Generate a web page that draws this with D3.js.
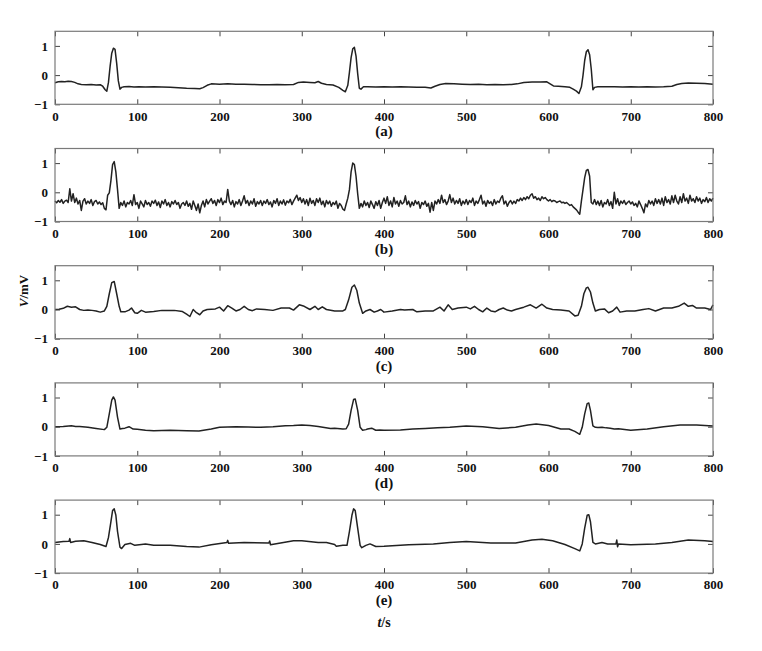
<!DOCTYPE html>
<html><head><meta charset="utf-8">
<script src="https://cdn.jsdelivr.net/npm/d3@7/dist/d3.min.js"></script>
<style>
html,body{margin:0;padding:0;background:#fff;}
svg text{font-family:"Liberation Serif","Times New Roman",serif;font-weight:bold;fill:#111;}
</style></head>
<body><svg id="chart" width="762" height="651"></svg>
<script>
// ---- data ----
const xTicks = [0,100,200,300,400,500,600,700,800];
const yTicks = [-1,0,1];
const yTickLabels = ["\u22121","0","1"];
const panelLabels = ["(a)","(b)","(c)","(d)","(e)"];

// (a) clean ECG [t, mV]
const sigA = [[0,-0.26],[4,-0.23],[8,-0.22],[12,-0.23],[16,-0.21],[20,-0.22],[24,-0.25],[28,-0.30],[32,-0.32],[38,-0.33],[44,-0.32],[50,-0.34],[55,-0.33],[58,-0.38],[61,-0.50],[63,-0.55],[65,-0.25],[67,0.30],[69,0.75],[71,0.92],[73,0.88],[75,0.40],[77,-0.20],[79,-0.48],[81,-0.42],[84,-0.40],[90,-0.39],[96,-0.41],[102,-0.40],[110,-0.41],[120,-0.40],[130,-0.41],[140,-0.42],[150,-0.43],[160,-0.45],[170,-0.46],[176,-0.47],[180,-0.43],[185,-0.35],[190,-0.30],[200,-0.31],[210,-0.30],[220,-0.31],[230,-0.31],[240,-0.32],[250,-0.33],[260,-0.33],[270,-0.32],[280,-0.33],[290,-0.32],[296,-0.25],[302,-0.24],[310,-0.25],[316,-0.26],[320,-0.22],[324,-0.28],[330,-0.32],[338,-0.34],[345,-0.42],[350,-0.52],[353,-0.57],[356,-0.35],[358,0.10],[360,0.60],[362,0.90],[364,0.95],[366,0.65],[368,0.05],[370,-0.45],[372,-0.48],[375,-0.40],[380,-0.40],[390,-0.41],[400,-0.40],[410,-0.41],[420,-0.40],[430,-0.41],[440,-0.42],[450,-0.42],[457,-0.44],[462,-0.38],[468,-0.32],[475,-0.29],[485,-0.30],[495,-0.31],[505,-0.32],[515,-0.31],[525,-0.33],[535,-0.32],[545,-0.33],[555,-0.32],[562,-0.30],[570,-0.25],[580,-0.24],[590,-0.24],[598,-0.23],[602,-0.30],[606,-0.37],[612,-0.38],[620,-0.40],[626,-0.42],[630,-0.48],[634,-0.55],[637,-0.63],[640,-0.40],[642,0.00],[644,0.50],[646,0.80],[648,0.87],[650,0.70],[652,0.20],[654,-0.50],[656,-0.42],[660,-0.40],[670,-0.40],[680,-0.40],[690,-0.41],[700,-0.40],[710,-0.41],[720,-0.40],[730,-0.41],[740,-0.40],[750,-0.38],[756,-0.32],[762,-0.29],[770,-0.27],[780,-0.28],[790,-0.29],[800,-0.31]];

// (b) noisy ECG, one value every bStep seconds from t = 0
const bStep = 2;
const sigB = [
-0.30,-0.36,-0.28,-0.34,-0.25,-0.38,-0.30,-0.27,-0.35,0.12,
-0.30,-0.05,-0.35,-0.20,-0.40,-0.28,-0.62,-0.30,-0.22,-0.40,
-0.30,-0.38,-0.25,-0.45,-0.32,-0.28,-0.40,-0.33,-0.42,-0.36,
-0.55,-0.60,-0.10,-0.02,0.40,0.95,1.05,0.70,0.10,-0.55,
-0.35,-0.45,-0.30,-0.50,-0.35,-0.40,-0.28,-0.45,-0.08,-0.42,
-0.35,-0.55,-0.30,-0.40,-0.50,-0.28,-0.42,-0.35,-0.48,-0.30,
-0.38,-0.27,-0.45,-0.33,-0.52,-0.30,-0.40,-0.25,-0.45,-0.35,
-0.50,-0.32,-0.40,-0.28,-0.42,-0.35,-0.55,-0.40,-0.35,-0.45,
-0.30,-0.48,-0.38,-0.58,-0.30,-0.45,-0.62,-0.40,-0.70,-0.45,
-0.30,-0.50,-0.25,-0.40,-0.30,-0.22,-0.38,-0.28,-0.45,-0.25,
-0.35,-0.20,-0.42,-0.30,-0.35,0.10,-0.30,-0.42,-0.28,-0.50,
-0.32,-0.40,-0.25,-0.45,-0.30,-0.12,-0.38,-0.28,-0.45,-0.30,
-0.40,-0.22,-0.48,-0.32,-0.40,-0.28,-0.45,-0.30,-0.38,-0.25,
-0.42,-0.33,-0.50,-0.28,-0.38,-0.22,-0.45,-0.30,-0.40,-0.26,
-0.44,-0.30,-0.36,-0.24,-0.42,-0.30,-0.20,-0.10,-0.28,-0.18,
-0.35,-0.22,-0.40,-0.25,-0.45,-0.20,-0.38,-0.28,-0.45,-0.22,
-0.35,-0.20,-0.42,-0.30,-0.50,-0.28,-0.40,-0.30,-0.48,-0.35,
-0.42,-0.30,-0.55,-0.38,-0.45,-0.58,-0.62,-0.40,-0.20,0.10,
0.70,1.00,0.95,0.55,-0.05,-0.55,-0.38,-0.50,-0.30,-0.45,
-0.35,-0.52,-0.30,-0.42,-0.55,-0.32,-0.45,-0.28,-0.55,-0.35,
-0.20,-0.38,-0.15,-0.45,-0.30,-0.50,-0.18,-0.40,-0.30,-0.48,
-0.28,-0.40,-0.35,-0.12,-0.42,-0.30,-0.50,-0.33,-0.45,-0.28,
-0.40,-0.32,-0.55,-0.35,-0.42,-0.30,-0.48,-0.38,-0.68,-0.35,
-0.62,-0.30,-0.40,-0.25,-0.38,-0.10,-0.35,-0.25,-0.42,-0.30,
-0.08,-0.35,-0.20,-0.40,-0.28,-0.38,-0.22,-0.45,-0.30,-0.40,
-0.25,-0.42,-0.28,-0.35,-0.20,-0.45,-0.30,-0.38,-0.25,-0.10,
-0.40,-0.30,-0.48,-0.28,-0.38,-0.32,-0.45,-0.25,-0.40,-0.30,
-0.35,-0.20,-0.12,-0.40,-0.30,-0.48,-0.35,-0.28,-0.40,-0.30,
-0.38,-0.25,-0.30,-0.20,-0.28,-0.18,-0.25,-0.15,-0.22,-0.10,
-0.05,-0.20,-0.15,-0.25,-0.20,-0.28,-0.15,-0.22,-0.18,-0.25,
-0.30,-0.25,-0.32,-0.28,-0.30,-0.35,-0.32,-0.30,-0.36,-0.34,
-0.38,-0.35,-0.40,-0.45,-0.42,-0.50,-0.55,-0.60,-0.68,-0.75,
-0.30,0.10,0.50,0.75,0.78,0.55,-0.35,-0.40,-0.25,-0.42,
-0.30,-0.45,-0.28,-0.50,-0.35,-0.40,-0.25,-0.45,-0.32,-0.55,
0.00,-0.40,-0.22,-0.45,-0.30,-0.38,-0.28,-0.42,-0.35,-0.30,
-0.40,-0.33,-0.45,-0.38,-0.50,-0.30,-0.42,-0.55,-0.70,-0.40,
-0.50,-0.28,-0.40,-0.30,-0.45,-0.22,-0.38,-0.25,-0.40,-0.20,
-0.45,-0.15,-0.35,-0.25,-0.40,-0.12,-0.35,-0.10,-0.30,-0.40,
-0.15,-0.35,-0.05,-0.30,-0.20,-0.38,-0.10,-0.30,-0.22,-0.35,
-0.15,-0.30,-0.20,-0.38,-0.25,-0.32,-0.18,-0.35,-0.22,-0.30,
-0.20];

// (c) [t, mV]
const sigC = [[0,0],[5,0.01],[10,0.04],[15,0.11],[20,0.08],[25,0.09],[30,0.0],[35,-0.03],[40,-0.02],[45,-0.03],[50,-0.05],[55,-0.09],[60,-0.05],[63,0.11],[66,0.54],[69,0.92],[72,0.96],[75,0.54],[78,0.11],[80,-0.08],[85,-0.08],[90,-0.02],[93,0.05],[97,-0.11],[100,-0.13],[105,-0.03],[110,-0.09],[120,-0.07],[130,-0.03],[145,-0.03],[155,-0.07],[160,-0.16],[164,-0.24],[168,0.0],[172,-0.11],[176,-0.18],[180,-0.05],[185,0.0],[195,0.02],[200,0.08],[205,-0.05],[210,0.13],[215,0.05],[220,-0.05],[225,0.0],[230,0.11],[235,0.0],[240,-0.04],[245,0.02],[255,0.0],[265,-0.03],[275,0.05],[285,0.05],[290,-0.02],[297,0.16],[303,0.11],[310,0.0],[316,0.11],[320,0.0],[325,0.09],[330,0.0],[340,-0.05],[350,-0.05],[353,0.0],[357,0.33],[361,0.76],[364,0.84],[367,0.65],[370,0.22],[374,-0.13],[378,-0.05],[383,0.0],[388,-0.09],[392,-0.05],[396,0.0],[400,-0.09],[410,-0.05],[420,0.0],[425,-0.02],[435,0.0],[440,-0.08],[450,-0.05],[460,-0.05],[468,0.08],[473,-0.05],[478,0.16],[483,0.0],[490,0.05],[500,0.08],[505,0.02],[510,0.11],[515,0.0],[520,-0.08],[525,0.05],[530,-0.05],[535,-0.08],[540,0.0],[545,0.05],[550,-0.02],[555,-0.05],[560,0.0],[570,0.08],[578,0.16],[585,0.05],[592,0.18],[598,0.05],[605,0.0],[615,-0.02],[625,-0.05],[632,-0.22],[636,-0.20],[640,0.11],[643,0.54],[646,0.74],[648,0.76],[651,0.60],[654,0.22],[657,-0.05],[662,0.0],[668,0.02],[673,-0.11],[678,-0.05],[683,0.08],[687,-0.09],[695,-0.05],[705,-0.05],[715,0.0],[722,0.03],[730,-0.05],[740,0.05],[750,0.05],[758,0.11],[765,0.22],[770,0.11],[775,0.14],[780,0.05],[790,0.05],[797,0.0],[800,0.16]];

// (d) [t, mV]
const sigD = [[0,0],[10,0.01],[20,0.03],[25,0.01],[30,0.01],[40,-0.02],[50,-0.06],[60,-0.10],[63,-0.02],[66,0.44],[69,0.91],[71,1.02],[73,0.91],[76,0.33],[79,-0.08],[82,-0.06],[85,-0.05],[90,0.0],[95,-0.08],[100,-0.09],[110,-0.12],[120,-0.14],[130,-0.13],[140,-0.12],[150,-0.13],[160,-0.14],[175,-0.15],[190,-0.08],[200,-0.02],[210,-0.01],[220,0.0],[235,-0.01],[250,-0.02],[265,0.0],[280,0.03],[290,0.04],[300,0.06],[310,0.04],[320,0.01],[335,-0.06],[340,-0.05],[350,-0.08],[354,-0.07],[357,0.09],[360,0.56],[363,0.93],[365,0.95],[368,0.56],[371,-0.02],[374,-0.12],[378,-0.10],[380,-0.08],[385,-0.05],[390,-0.12],[395,-0.11],[400,-0.12],[420,-0.11],[435,-0.08],[450,-0.06],[465,-0.04],[480,-0.02],[500,0.02],[520,0.0],[540,-0.06],[560,-0.02],[575,0.06],[585,0.09],[600,0.04],[615,-0.08],[625,-0.08],[632,-0.16],[638,-0.26],[641,-0.02],[644,0.44],[647,0.79],[649,0.81],[651,0.56],[654,0.03],[657,-0.02],[660,-0.03],[665,-0.02],[670,-0.04],[675,-0.05],[680,-0.08],[685,-0.07],[700,-0.12],[720,-0.08],[740,0.0],[760,0.06],[780,0.06],[800,0.02]];

// (e) [t, mV]
const sigE = [[0,0.05],[10,0.08],[17,0.09],[18,0.18],[19,0.05],[25,0.09],[35,0.11],[45,0.05],[55,-0.02],[62,-0.09],[65,0.22],[68,0.76],[70,1.14],[72,1.20],[74,0.98],[76,0.43],[79,-0.11],[81,-0.16],[85,-0.02],[92,0.02],[97,-0.05],[105,-0.02],[110,0.0],[120,-0.05],[140,-0.05],[160,-0.09],[175,-0.11],[190,-0.03],[209,0.05],[210,0.12],[211,0.02],[230,0.05],[260,0.03],[261,0.10],[262,-0.03],[290,0.11],[300,0.11],[320,0.05],[330,0.05],[340,-0.02],[342,-0.08],[350,-0.05],[355,-0.05],[358,0.43],[361,0.98],[363,1.20],[365,1.14],[368,0.54],[371,-0.05],[373,-0.13],[378,-0.05],[383,0.0],[390,-0.09],[400,-0.08],[430,-0.03],[460,0.0],[480,0.05],[500,0.08],[530,0.03],[560,0.03],[580,0.13],[592,0.16],[605,0.11],[620,-0.02],[632,-0.16],[638,-0.24],[641,0.0],[644,0.54],[647,0.98],[649,1.00],[651,0.76],[654,0.05],[657,0.0],[665,0.05],[672,0.0],[682,0.0],[683,0.13],[684,-0.10],[685,0.0],[700,-0.03],[730,0.0],[750,0.05],[770,0.13],[790,0.11],[800,0.08]];

// ---- drawing ----
const svg = d3.select("#chart");
const left = 55, right = 713, panelH = 73, top0 = 31.3, gap = 117.2, tickLen = 5;
const x = d3.scaleLinear().domain([0, 800]).range([left, right]);

const seriesList = [
  sigA,
  sigB.map((v, i) => [i * bStep, v]),
  sigC, sigD, sigE
];

seriesList.forEach((data, i) => {
  const top = top0 + i * gap, bottom = top + panelH;
  const y = d3.scaleLinear().domain([-1, 1.5]).range([bottom, top]);
  const g = svg.append("g");

  const line = d3.line().x(d => x(d[0])).y(d => y(d[1]));
  g.append("path").datum(data).attr("d", line)
    .attr("fill", "none").attr("stroke", "#222").attr("stroke-width", 1.5)
    .attr("stroke-linejoin", "round");

  const xb = d3.axisBottom(x).tickValues(xTicks).tickSizeInner(-tickLen).tickSizeOuter(0).tickPadding(7).tickFormat(d3.format("d"));
  const xt = d3.axisTop(x).tickValues(xTicks).tickSizeInner(-tickLen).tickSizeOuter(0).tickFormat("");
  const yl = d3.axisLeft(y).tickValues(yTicks).tickSizeInner(-tickLen).tickSizeOuter(0).tickPadding(7)
    .tickFormat((d, k) => yTickLabels[k]);
  const yr = d3.axisRight(y).tickValues(yTicks).tickSizeInner(-tickLen).tickSizeOuter(0).tickFormat("");

  [g.append("g").attr("transform", `translate(0,${bottom})`).call(xb),
   g.append("g").attr("transform", `translate(0,${top})`).call(xt),
   g.append("g").attr("transform", `translate(${left},0)`).call(yl),
   g.append("g").attr("transform", `translate(${right},0)`).call(yr)].forEach(a => {
    a.select(".domain").remove();
    a.selectAll(".tick line").attr("stroke", "#444").attr("stroke-width", 1);
    a.selectAll("text").attr("font-size", 13).attr("fill", "#111")
      .style("font-family", '"Liberation Serif","Times New Roman",serif').style("font-weight", "bold");
  });

  g.append("rect").attr("x", left).attr("y", top).attr("width", right - left).attr("height", panelH)
    .attr("fill", "none").attr("stroke", "#7a7a7a").attr("stroke-width", 1.2);

  g.append("text").attr("x", (left + right) / 2).attr("y", bottom + 32)
    .attr("text-anchor", "middle").attr("font-size", 15).text(panelLabels[i]);
});

// y axis label (panel c)
const ylab = svg.append("text").attr("transform", "translate(28,291) rotate(-90)")
  .attr("text-anchor", "middle").attr("font-size", 13);
ylab.append("tspan").attr("font-style", "italic").text("V");
ylab.append("tspan").text("/mV");

// x axis label
const xlab = svg.append("text").attr("x", (left + right) / 2).attr("y", 627)
  .attr("text-anchor", "middle").attr("font-size", 14);
xlab.append("tspan").attr("font-style", "italic").text("t");
xlab.append("tspan").text("/s");
</script></body></html>
